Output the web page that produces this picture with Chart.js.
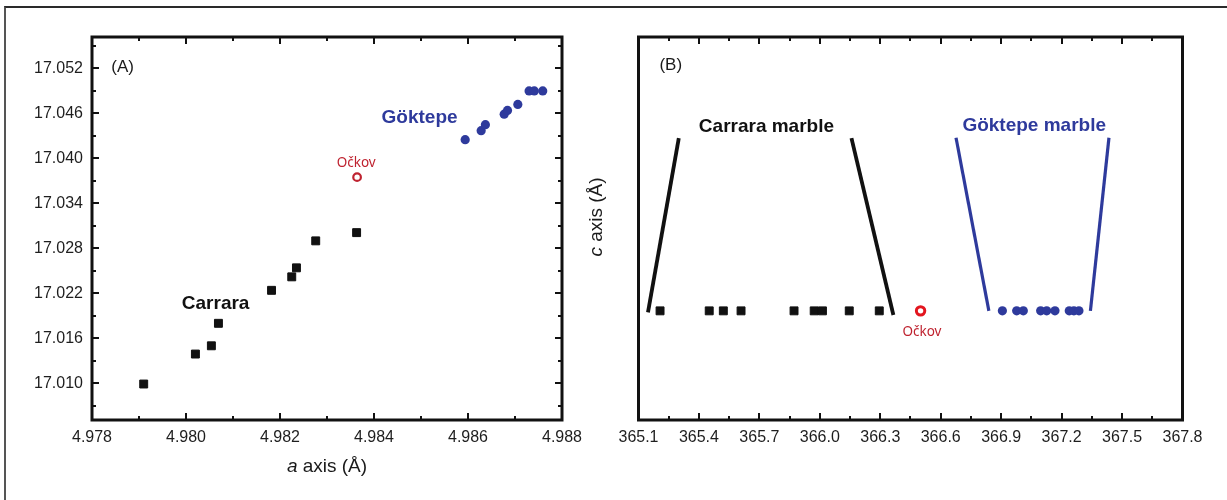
<!DOCTYPE html>
<html>
<head>
<meta charset="utf-8">
<script src="https://cdn.jsdelivr.net/npm/chart.js@4/dist/chart.umd.min.js"></script>
<style>
  html, body { margin: 0; padding: 0; background: #fff; }
  #fig { position: relative; width: 1227px; height: 500px; overflow: hidden; background: #fff; }
  #frame { position: absolute; left: 4px; top: 6px; width: 1260px; height: 520px;
           border-top: 2px solid #2a2a2a; border-left: 2px solid #555; }
  .wrap { position: absolute; top: 0; height: 500px; }
  #wrapA { left: 0; width: 614px; }
  #wrapB { left: 575px; width: 652px; }
</style>
</head>
<body>
<div id="fig">
  <div id="frame"></div>
  <div class="wrap" id="wrapA"><canvas id="panelA" width="614" height="500"></canvas></div>
  <div class="wrap" id="wrapB"><canvas id="panelB" width="652" height="500"></canvas></div>
</div>
<script>
// ---- Panel A: lattice parameters a and c (Å) ----
const carraraA = [4.97910, 4.98020, 4.98054, 4.98069, 4.98182, 4.98225, 4.98235, 4.98276, 4.98363];
const carraraC = [17.0099, 17.0139, 17.0150, 17.0180, 17.0224, 17.0242, 17.0254, 17.0290, 17.0301];
const goktepeA = [4.98594, 4.98628, 4.98637, 4.98677, 4.98684, 4.98706, 4.98730, 4.98741, 4.98759];
const goktepeC = [17.0425, 17.0437, 17.0445, 17.0459, 17.0464, 17.0472, 17.0490, 17.0490, 17.0490];
const ockovA = [4.98364];
const ockovC = [17.0375];

// ---- Panel B: unit-cell volume (Å³), one row per marble ----
const carraraV = [365.207, 365.451, 365.521, 365.609, 365.872, 365.972, 366.013, 366.146, 366.295];
const goktepeV = [366.906, 366.977, 367.010, 367.096, 367.126, 367.167, 367.238, 367.261, 367.286];
const ockovV = [366.50];
const rowLevel = 0.285;

// bracket strokes framing each marble group in panel B
const carraraLeftX = [365.300, 365.147],  carraraLeftY = [0.736, 0.281];
const carraraRightX = [366.157, 366.365], carraraRightY = [0.736, 0.274];
const goktepeLeftX = [366.676, 366.839],  goktepeLeftY = [0.737, 0.285];
const goktepeRightX = [367.435, 367.343], goktepeRightY = [0.737, 0.285];

// ---- tick labels ----
const aTicks = ['4.978', '4.980', '4.982', '4.984', '4.986', '4.988'];
const aMinor = [4.979, 4.981, 4.983, 4.985, 4.987];
const cTicks = ['17.010', '17.016', '17.022', '17.028', '17.034', '17.040', '17.046', '17.052'];
const cMinor = [17.007, 17.013, 17.019, 17.025, 17.031, 17.037, 17.043, 17.049, 17.055];
const vTicks = ['365.1', '365.4', '365.7', '366.0', '366.3', '366.6', '366.9', '367.2', '367.5', '367.8'];
const vMinor = [365.25, 365.55, 365.85, 366.15, 366.45, 366.75, 367.05, 367.35, 367.65];

const SANS = '"Liberation Sans", Arial, Helvetica, sans-serif';
const LABEL_FONT = '"Noto Sans", "Open Sans", sans-serif';
const BLACK = '#111111';
const BLUE = '#2e3a9c';
const RED_A = '#bf2330';
const RED_B = '#e3161f';

const pts = (xs, ys) => xs.map((x, i) => ({ x, y: Array.isArray(ys) ? ys[i] : ys }));

// box around the plot with inward major/minor ticks on the chosen sides
const frameTicks = {
  id: 'frameTicks',
  afterDraw(chart, args, opts) {
    const { ctx, chartArea: a, scales } = chart;
    ctx.save();
    ctx.strokeStyle = BLACK;
    ctx.lineWidth = 2;
    const seg = (x1, y1, x2, y2) => { ctx.beginPath(); ctx.moveTo(x1, y1); ctx.lineTo(x2, y2); ctx.stroke(); };
    (opts.x || []).forEach(([vals, len]) => vals.forEach(v => {
      const px = Math.round(scales.x.getPixelForValue(v));
      seg(px, a.bottom, px, a.bottom - len);
      seg(px, a.top, px, a.top + len);
    }));
    (opts.y || []).forEach(([vals, len]) => vals.forEach(v => {
      const py = Math.round(scales.y.getPixelForValue(v));
      seg(a.left, py, a.left + len, py);
      seg(a.right, py, a.right - len, py);
    }));
    ctx.lineWidth = 3;
    ctx.strokeRect(a.left, a.top, a.right - a.left, a.bottom - a.top);
    ctx.restore();
  }
};

// text labels placed in data coordinates, plus axis titles with italic symbols
const notes = {
  id: 'notes',
  afterDraw(chart, args, opts) {
    const { ctx, scales } = chart;
    ctx.save();
    ctx.textAlign = 'center';
    ctx.textBaseline = 'middle';
    (opts.items || []).forEach(it => {
      ctx.font = it.font;
      ctx.fillStyle = it.color;
      ctx.fillText(it.text, scales.x.getPixelForValue(it.x), scales.y.getPixelForValue(it.y));
    });
    (opts.titles || []).forEach(t => {
      ctx.save();
      const cx = typeof t.cx === 'function' ? t.cx(chart) : t.cx;
      ctx.translate(cx, t.cy);
      ctx.rotate(t.rot || 0);
      let total = 0;
      t.parts.forEach(p => { ctx.font = p[1]; total += ctx.measureText(p[0]).width; });
      let x = -total / 2;
      ctx.textAlign = 'left';
      ctx.fillStyle = '#1a1a1a';
      t.parts.forEach(p => { ctx.font = p[1]; ctx.fillText(p[0], x, 0); x += ctx.measureText(p[0]).width; });
      ctx.restore();
    });
    ctx.restore();
  }
};

function tickScale(min, max, labels, pad, fitKey, fitVal, show = true) {
  return {
    type: 'linear', min, max,
    grid: { display: false, drawTicks: false },
    border: { display: false },
    afterBuildTicks(s) { s.ticks = labels.map(t => ({ value: parseFloat(t) })); },
    afterFit(s) { s[fitKey] = fitVal; },
    ticks: {
      display: show, autoSkip: false, maxRotation: 0, padding: pad,
      color: '#1e1e1e', font: { family: SANS, size: 16 },
      callback: (v, i) => labels[i]
    }
  };
}

// ---- Panel A ----
new Chart(document.getElementById('panelA'), {
  type: 'scatter',
  data: {
    datasets: [
      { label: 'Carrara', data: pts(carraraA, carraraC), pointStyle: 'rect', pointRadius: 5.6,
        backgroundColor: BLACK, borderColor: BLACK, borderWidth: 1 },
      { label: 'Göktepe', data: pts(goktepeA, goktepeC), pointStyle: 'circle', pointRadius: 4.6,
        backgroundColor: BLUE, borderColor: BLUE, borderWidth: 0 },
      { label: 'Očkov', data: pts(ockovA, ockovC), pointStyle: 'circle', pointRadius: 3.8,
        backgroundColor: 'rgba(255,255,255,0)', borderColor: RED_A, borderWidth: 2.2 }
    ]
  },
  options: {
    responsive: false, animation: false, events: [],
    layout: { padding: { top: 37, right: 52, left: 0, bottom: 0 } },
    plugins: {
      legend: { display: false }, tooltip: { enabled: false },
      frameTicks: { x: [[aTicks.map(Number), 7], [aMinor, 4]], y: [[cTicks.map(Number), 7], [cMinor, 4]] },
      notes: {
        items: [
          { text: '(A)', x: 4.97865, y: 17.0521, font: `17px ${SANS}`, color: '#1a1a1a' },
          { text: 'Carrara', x: 4.98063, y: 17.0206, font: `bold 19px ${SANS}`, color: BLACK },
          { text: 'Göktepe', x: 4.98497, y: 17.0454, font: `bold 19px ${SANS}`, color: BLUE },
          { text: 'Očkov', x: 4.98362, y: 17.0394, font: `13.5px ${LABEL_FONT}`, color: RED_A }
        ],
        titles: [
          { cx: c => (c.chartArea.left + c.chartArea.right) / 2, cy: 467,
            parts: [['a', `italic 19px ${SANS}`], [' axis (Å)', `19px ${SANS}`]] }
        ]
      }
    },
    scales: {
      x: tickScale(4.978, 4.988, aTicks, 8, 'height', 80),
      y: tickScale(17.0051, 17.0562, cTicks, 9, 'width', 92)
    }
  },
  plugins: [frameTicks, notes]
});

// ---- Panel B ----
const lineSet = (xs, ys, color, w) => ({
  type: 'line', data: pts(xs, ys), borderColor: color, borderWidth: w,
  pointRadius: 0, showLine: true, fill: false, order: 5, borderCapStyle: 'butt'
});

new Chart(document.getElementById('panelB'), {
  type: 'scatter',
  data: {
    datasets: [
      lineSet(carraraLeftX, carraraLeftY, BLACK, 3.8),
      lineSet(carraraRightX, carraraRightY, BLACK, 3.8),
      lineSet(goktepeLeftX, goktepeLeftY, BLUE, 3.2),
      lineSet(goktepeRightX, goktepeRightY, BLUE, 3.2),
      { label: 'Carrara marble', data: pts(carraraV, rowLevel), pointStyle: 'rect', pointRadius: 5.6,
        backgroundColor: BLACK, borderColor: BLACK, borderWidth: 1, order: 1 },
      { label: 'Göktepe marble', data: pts(goktepeV, rowLevel), pointStyle: 'circle', pointRadius: 4.6,
        backgroundColor: BLUE, borderColor: BLUE, borderWidth: 0, order: 1 },
      { label: 'Očkov', data: pts(ockovV, rowLevel), pointStyle: 'circle', pointRadius: 4.2,
        backgroundColor: 'rgba(255,255,255,0)', borderColor: RED_B, borderWidth: 3, order: 1 }
    ]
  },
  options: {
    responsive: false, animation: false, events: [],
    layout: { padding: { top: 37, right: 44.5, left: 0, bottom: 0 } },
    plugins: {
      legend: { display: false }, tooltip: { enabled: false },
      frameTicks: { x: [[vTicks.map(Number), 7], [vMinor, 4]], y: [] },
      notes: {
        items: [
          { text: '(B)', x: 365.26, y: 0.927, font: `17px ${SANS}`, color: '#1a1a1a' },
          { text: 'Carrara marble', x: 365.735, y: 0.766, font: `bold 19px ${SANS}`, color: BLACK },
          { text: 'Göktepe marble', x: 367.064, y: 0.768, font: `bold 19px ${SANS}`, color: BLUE },
          { text: 'Očkov', x: 366.507, y: 0.230, font: `13.5px ${LABEL_FONT}`, color: RED_A }
        ],
        titles: [
          { cx: 22, cy: 217, rot: -Math.PI / 2,
            parts: [['c', `italic 19px ${SANS}`], [' axis (Å)', `19px ${SANS}`]] }
        ]
      }
    },
    scales: {
      x: tickScale(365.1, 367.8, vTicks, 8, 'height', 80),
      y: tickScale(0, 1, [], 0, 'width', 63.5, false)
    }
  },
  plugins: [frameTicks, notes]
});
</script>
</body>
</html>
